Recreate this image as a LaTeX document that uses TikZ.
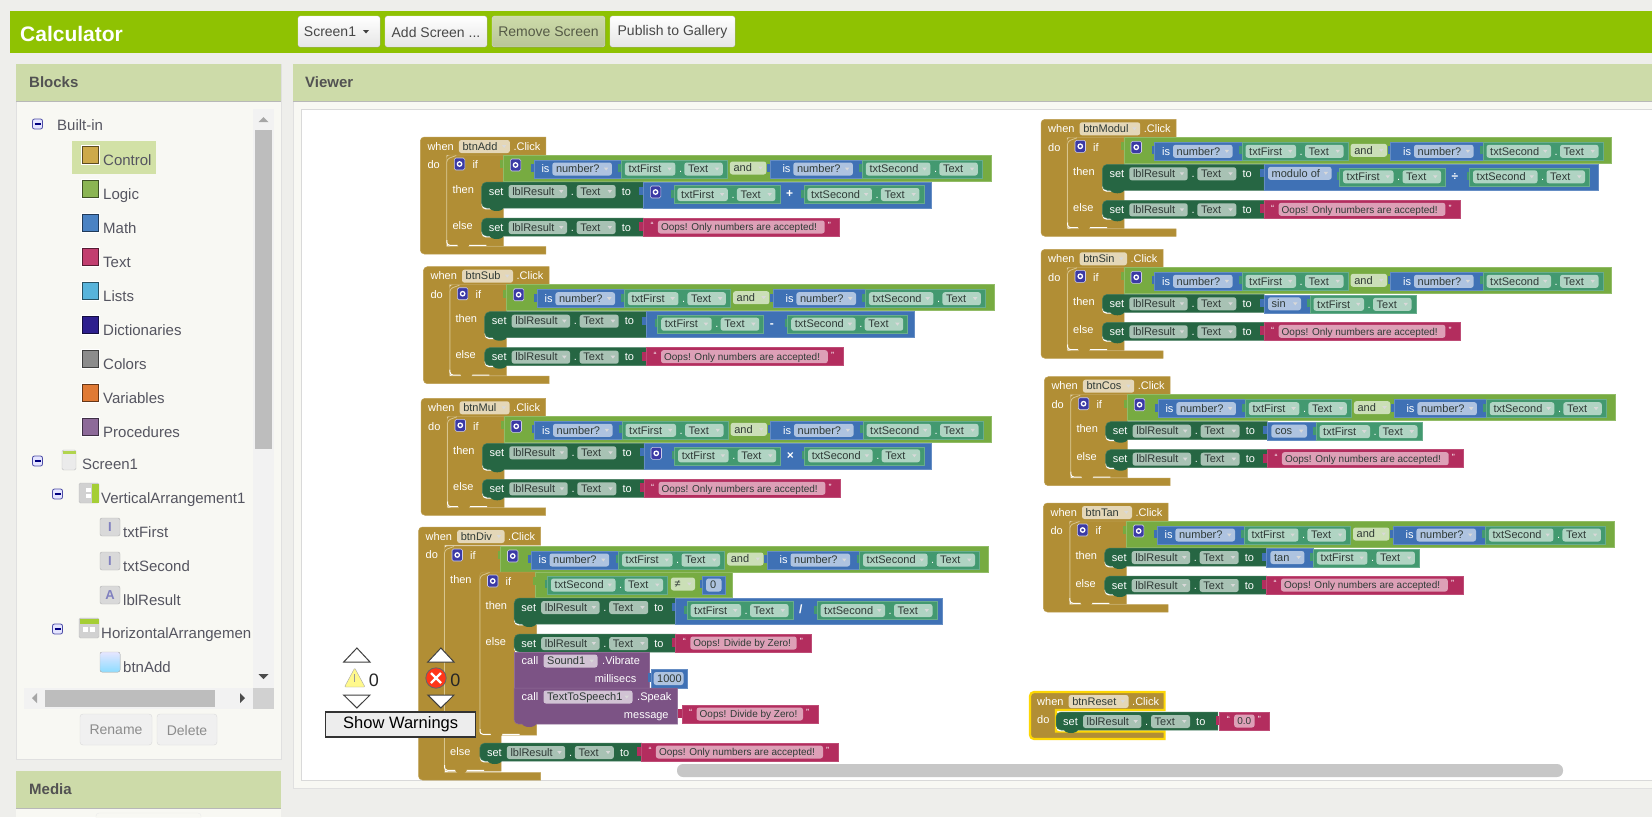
\documentclass[tikz,border=0pt]{standalone}
\usepackage{fontspec}
\setmainfont{Liberation Sans}
\tikzstyle{blockSheet} = [x = 1pt, y = -1pt]
\definecolor{pageColor}{HTML}{EEEEEB}
\definecolor{barGreen}{HTML}{8FC202}
\definecolor{headColor}{HTML}{CDDBA9}
\definecolor{paperColor}{HTML}{F8F8F3}
\definecolor{rowPick}{HTML}{D2E1A6}
\definecolor{controlBrown}{HTML}{B18E35}
\definecolor{controlLine}{HTML}{D8C58E}
\definecolor{logicGreen}{HTML}{77AB41}
\definecolor{mathBlue}{HTML}{3F71B5}
\definecolor{textPink}{HTML}{B32D5E}
\definecolor{setGreen}{HTML}{266643}
\definecolor{propTeal}{HTML}{439970}
\definecolor{callPurple}{HTML}{7C5385}
\definecolor{gearPurple}{HTML}{3B3AA5}
\definecolor{inkColor}{HTML}{2F3A36}
\definecolor{treeInk}{HTML}{555560}
\definecolor{swatchControl}{HTML}{CDA94A}
\definecolor{swatchLogic}{HTML}{8BB553}
\definecolor{swatchMath}{HTML}{4A82C3}
\definecolor{swatchText}{HTML}{C23E6F}
\definecolor{swatchLists}{HTML}{57B4DC}
\definecolor{swatchDict}{HTML}{2D1F8E}
\definecolor{swatchColors}{HTML}{8C8C8C}
\definecolor{swatchVars}{HTML}{E07A35}
\definecolor{swatchProcs}{HTML}{8D6A99}
\tikzstyle{blockText} = [font=\fontsize{11}{13}\selectfont, text=white, anchor=west, inner sep=0, text height=9.5, text depth=2]
\tikzstyle{blockTextRight} = [blockText, anchor=east]
\tikzstyle{fieldText} = [blockText, text=inkColor]
\tikzstyle{stringText} = [fieldText, font=\fontsize{10}{12}\selectfont]
\tikzstyle{quoteText} = [blockText, font=\fontsize{9}{10}\selectfont]
\tikzstyle{treeText} = [font=\fontsize{15}{17}\selectfont, text=treeInk, anchor=west, inner sep=0, text height=13, text depth=3]
\tikzstyle{headText} = [font=\fontsize{15}{17}\bfseries\selectfont, text=black!68, anchor=west, inner sep=0]
\tikzstyle{buttonText} = [font=\fontsize{14}{16}\selectfont, text=black!72, inner sep=0]
\tikzstyle{topButton} = [rounded corners=2.5, draw=black!12, top color=white, bottom color=black!10]
\tikzstyle{controlBody} = [fill=controlBrown, draw=controlBrown!85!white, line width=.5]
\tikzstyle{logicBody} = [fill=logicGreen, draw=logicGreen!80!white, line width=.5]
\tikzstyle{mathBody} = [fill=mathBlue, draw=mathBlue!80!white, line width=.5]
\tikzstyle{pinkBody} = [fill=textPink, draw=textPink!85!white, line width=.5]
\tikzstyle{setBody} = [fill=setGreen, draw=setGreen!85!white, line width=.5]
\tikzstyle{tealBody} = [fill=propTeal, draw=propTeal!80!white, line width=.5]
\tikzstyle{callBody} = [fill=callPurple, draw=callPurple!85!white, line width=.5]
\tikzstyle{brownField} = [fill=controlBrown!35!white]
\tikzstyle{setField} = [fill=setGreen!40!white]
\tikzstyle{tealField} = [fill=propTeal!42!white]
\tikzstyle{blueField} = [fill=mathBlue!42!white]
\tikzstyle{pinkField} = [fill=textPink!45!white]
\tikzstyle{greenField} = [fill=logicGreen!38!white]
\tikzstyle{purpleField} = [fill=callPurple!35!white]
\tikzstyle{gearStyle} = [fill=gearPurple, draw=white!75!gearPurple, rounded corners=1.5, line width=.6]
\tikzstyle{scrollThumb} = [fill=black!26]
\tikzstyle{scrollTrack} = [fill=black!5]
\tikzstyle{spinTip} = [fill=white, draw=black!75, line width=1]
\newcounter{labelNo}
\newcommand{\blockLabel}[3]{\stepcounter{labelNo}\node [#1] (label\arabic{labelNo}) at (#2) {#3};}
\newcommand{\dropField}[5]{
  \fill [#1, rounded corners=2.5] (#2,#4-6.5) rectangle (#3,#4+6.5);
  \blockLabel{fieldText}{#2+3.5,#4}{#5}
  \fill [white!85!black] (#3-8,#4-1.5) -- (#3-3.5,#4-1.5) -- (#3-5.75,#4+1.5) -- cycle;
}
\newcommand{\gearIcon}[2]{
  \filldraw [gearStyle] (#1,#2) rectangle +(10.5,12);
  \draw [white, line width=1.3] (#1+5.25,#2+6) circle (2.2);
}
\newcommand{\clickBlock}[4]{
  \filldraw [controlBody, #4] (#1+74.6,0) -- (#1+74.6,18) -- (26,18) -- (26,#2-7.5) -- (#1+74.6,#2-7.5) -- (#1+74.6,#2) [rounded corners=4] -- (0,#2) -- (0,0) [sharp corners] -- cycle;
  \blockLabel{blockText}{7,9.5}{when}
  \dropField{brownField}{38.6}{38.6+#1}{9.5}{#3}
  \blockLabel{blockText}{42+#1,9.5}{.Click}
  \blockLabel{blockText}{7,28}{do}
}
\newcommand{\ifBlock}[5]{
  \begin{scope}[shift={(#1,#2)}]
    \filldraw [controlBody] (57,0) [rounded corners=4] -- (0,0) -- (0,#3) [sharp corners] -- (57,#3) -- cycle;
    \draw [controlLine, line width=.8, rounded corners=3] (.5,#3-6) -- (.5,4) -- (10,.5);
    \draw [white, line width=1, rounded corners=3] (.5,#3-6) -- (.5,#3-.7) -- (40,#3-.7);
    \fill [controlBrown] (17,#3-1) ellipse (6 and 3.5);
    \gearIcon{8}{3}
    \blockLabel{blockText}{26,10}{if}
    \blockLabel{blockText}{6,#4}{then}
    \blockLabel{blockText}{6,#5}{else}
  \end{scope}
}
\newcommand{\propBlock}[4]{
  \begin{scope}[shift={(#1,#2)}]
    \fill [propTeal] (-3,4) rectangle (0,12);
    \filldraw [tealBody] (0,0) rectangle (#4+55.5,18);
    \dropField{tealField}{3.5}{3.5+#4}{9}{#3}
    \blockLabel{blockText}{#4+7,9}{.}
    \dropField{tealField}{#4+12.5}{#4+51}{9}{Text}
  \end{scope}
}
\newcommand{\isBlock}[3]{
  \begin{scope}[shift={(#1,#2)}]
    \fill [mathBlue] (-3,4) rectangle (0,12);
    \filldraw [mathBody] (0,0) rectangle (#3,18);
    \blockLabel{blockText}{#3-80,9}{is}
    \dropField{blueField}{#3-69}{#3-9.4}{9}{number?}
  \end{scope}
}
\newcommand{\numberCheck}[2]{
  \begin{scope}[shift={(#1,#2)}]
    \fill [logicGreen] (-3,5) rectangle (0,13);
    \filldraw [logicBody] (0,0) rectangle (487.6,26);
    \gearIcon{7}{4}
    \isBlock{30.6}{5}{87.4}
    \propBlock{118}{5}{txtFirst}{50.5}
    \dropField{greenField}{226.6}{263}{13}{and}
    \isBlock{266.7}{5}{92.3}
    \propBlock{359}{5}{txtSecond}{64.5}
  \end{scope}
}
\newcommand{\setRow}[3]{
  \begin{scope}[shift={(#1,#2)}]
    \fill [white, rounded corners=4] (0,#3-8) -- (0,#3+1.3) -- (24,#3+1.3) -- (24,#3-8) -- cycle;
    \filldraw [setBody] (161.8,0) [rounded corners=5] -- (0,0) -- (0,#3) [sharp corners] -- (161.8,#3) -- cycle;
    \fill [setGreen] (15,#3-.5) ellipse (7 and 3.5);
    \blockLabel{blockText}{7,9.5}{set}
    \dropField{setField}{27}{85.4}{9.5}{lblResult}
    \blockLabel{blockText}{89,9.5}{.}
    \dropField{setField}{95}{134}{9.5}{Text}
    \blockLabel{blockText}{140,9.5}{to}
  \end{scope}
}
\newcommand{\stringBlock}[4]{
  \begin{scope}[shift={(#1,#2)}]
    \fill [textPink] (-4,4) rectangle (0,13);
    \filldraw [pinkBody] (0,0) rectangle (#3,18);
    \blockLabel{quoteText}{7,7}{“}
    \fill [pinkField, rounded corners=2.5] (14.6,2.5) rectangle (#3-15,15.5);
    \blockLabel{stringText}{17.5,9}{#4}
    \blockLabel{quoteText}{#3-12,7}{”}
  \end{scope}
}
\newcommand{\arithBlock}[5]{
  \begin{scope}[shift={(#1,#2)}]
    \fill [mathBlue] (-4,5) rectangle (0,13);
    \filldraw [mathBody] (0,0) rectangle (#3,26);
    \propBlock{#4}{3.5}{txtFirst}{50.5}
    \blockLabel{blockText, font=\fontsize{12}{13}\bfseries\selectfont}{#4+112,12}{#5}
    \propBlock{#4+130}{3.5}{txtSecond}{64.5}
  \end{scope}
}
\newcommand{\trigRow}[4]{
  \begin{scope}[shift={(#1,#2)}]
    \fill [mathBlue] (-4,4) rectangle (0,12);
    \filldraw [mathBody] (0,0) rectangle (#3,18.5);
    \dropField{blueField}{4}{#3-9}{9}{#4}
    \propBlock{#3}{0.5}{txtFirst}{50.5}
  \end{scope}
}
\newcommand{\guardBlock}[3]{
  \clickBlock{#1}{#3+91}{#2}{}
  \ifBlock{26}{18}{#3+65}{34.5}{#3+44.5}
  \numberCheck{83}{18}
  \setRow{61.3}{45}{#3}
  \setRow{61.3}{#3+55}{18}
  \stringBlock{223}{#3+55}{196.4}{Oops! Only numbers are accepted!}
}
\newcommand{\paletteRow}[3]{
  \filldraw [draw=white, line width=1, fill=#3!45!black] (81,#1-9.5) rectangle (99,#1+9.5);
  \fill [#3] (82.5,#1-8) rectangle (97.5,#1+8);
  \blockLabel{treeText}{103,#1+5}{#2}
}
\newcommand{\minusIcon}[2]{
  \filldraw [fill=blue!10!white, draw=blue!50!black!70!white, rounded corners=2, line width=.8] (#1-5,#2-5) rectangle (#1+5,#2+5);
  \draw [blue!50!black, line width=1.2] (#1-3,#2) -- (#1+3,#2);
}
\newcommand{\boxIcon}[4]{
  \filldraw [fill=black!15, draw=black!30, rounded corners=2] (#1,#2) rectangle +(20,18);
  \blockLabel{treeText, font=\fontsize{13}{15}\bfseries\selectfont, text=blue!50!black!50!white, anchor=center, text height=9, text depth=0}{#1+10,#2+9}{#3}
  \blockLabel{treeText}{#1+23,#2+14}{#4}
}
\begin{document}
\begin{tikzpicture}[blockSheet]
  \useasboundingbox (0,0) rectangle (1652,817);
  \fill [pageColor] (0,0) rectangle (1652,817);
  % top bar
  \fill [barGreen] (10,11) rectangle (1652,53);
  \blockLabel{headText, font=\fontsize{21}{23}\bfseries\selectfont, text=white}{20,33.5}{Calculator}
  \filldraw [topButton] (298,16) rectangle (380,47);
  \filldraw [topButton] (385,16) rectangle (487,47);
  \filldraw [topButton, top color=headColor, bottom color=headColor!90!black] (492,16) rectangle (605,47);
  \filldraw [topButton] (610,16) rectangle (735,47);
  \blockLabel{buttonText}{330,32}{Screen1}
  \fill [black!75] (363,30) -- (369,30) -- (366,33.5) -- cycle;
  \blockLabel{buttonText}{436,32}{Add Screen ...}
  \blockLabel{buttonText, text=black!45!headColor!75!black}{548.5,32}{Remove Screen}
  \blockLabel{buttonText}{672.5,32}{Publish to Gallery}
  % panels
  \filldraw [fill=paperColor, draw=black!12] (16,64) rectangle (281,759);
  \fill [headColor] (16,64) rectangle (281,101);
  \draw [black!28] (16,101) -- (281,101);
  \blockLabel{headText}{29,82.5}{Blocks}
  \fill [paperColor] (16,771) rectangle (281,817);
  \fill [headColor] (16,771) rectangle (281,808);
  \draw [black!28] (16,808) -- (281,808);
  \blockLabel{headText}{29,789.5}{Media}
  \filldraw [fill=paperColor, draw=black!8] (96,817.5) [rounded corners=3] -- (96,813) -- (201,813) -- (201,817.5);
  \filldraw [fill=paperColor, draw=black!12] (293,64) rectangle (1653,788);
  \fill [headColor] (293,64) rectangle (1652,101);
  \draw [black!28] (293,101) -- (1652,101);
  \blockLabel{headText}{305,82.5}{Viewer}
  \filldraw [fill=white, draw=black!15] (301,109) rectangle (1653,780);
  % tree
  \fill [rowPick] (72,141) rectangle (156,174);
  \minusIcon{37.5}{124}
  \blockLabel{treeText}{57,125}{Built-in}
  \paletteRow{155}{Control}{swatchControl}
  \paletteRow{189}{Logic}{swatchLogic}
  \paletteRow{223}{Math}{swatchMath}
  \paletteRow{257}{Text}{swatchText}
  \paletteRow{291}{Lists}{swatchLists}
  \paletteRow{325}{Dictionaries}{swatchDict}
  \paletteRow{359}{Colors}{swatchColors}
  \paletteRow{393}{Variables}{swatchVars}
  \paletteRow{427}{Procedures}{swatchProcs}
  \minusIcon{37.5}{461}
  \filldraw [fill=black!8, draw=black!25, rounded corners=1.5] (62,450) rectangle (76,470);
  \fill [barGreen!70!white] (62.5,450.5) rectangle (75.5,454);
  \blockLabel{treeText}{82,464.5}{Screen1}
  \minusIcon{57.5}{494}
  \filldraw [fill=black!18, draw=black!25, rounded corners=1.5] (79,483) rectangle (99,503);
  \fill [barGreen!80!white] (92,483.5) rectangle (98.5,502.5);
  \fill [white] (86,488) rectangle (91,492);
  \fill [white] (86,494) rectangle (91,498);
  \blockLabel{treeText}{101,498}{VerticalArrangement1}
  \boxIcon{100}{518}{I}{txtFirst}
  \boxIcon{100}{552}{I}{txtSecond}
  \boxIcon{100}{586}{A}{lblResult}
  \minusIcon{57.5}{629}
  \filldraw [fill=black!18, draw=black!25, rounded corners=1.5] (79,618) rectangle (99,638);
  \fill [barGreen!80!white] (79.5,618.5) rectangle (98.5,624);
  \fill [white] (83,627) rectangle (88,632);
  \fill [white] (90,627) rectangle (95,632);
  \blockLabel{treeText}{101,633}{HorizontalArrangemen}
  \filldraw [draw=black!25, top color=blue!10!white, bottom color=blue!30!cyan!45!white, rounded corners=2] (100,652) rectangle (120,672);
  \blockLabel{treeText}{123,667}{btnAdd}
  % tree scroll bars
  \fill [scrollTrack] (253,109) rectangle (274,688);
  \fill [scrollThumb] (255,130) rectangle (272,449);
  \fill [black!35] (258.5,122) -- (268.5,122) -- (263.5,117) -- cycle;
  \fill [black!70] (258.5,674) -- (268.5,674) -- (263.5,679) -- cycle;
  \fill [scrollTrack] (24,688) rectangle (274,709);
  \fill [black!18] (253,688) rectangle (274,709);
  \fill [scrollThumb] (45,690) rectangle (215,707);
  \fill [black!35] (37,693) -- (37,703) -- (32,698) -- cycle;
  \fill [black!70] (240,693) -- (240,703) -- (245,698) -- cycle;
  \filldraw [fill=black!6, draw=black!14, rounded corners=3] (80,714) rectangle (152,745);
  \filldraw [fill=black!6, draw=black!14, rounded corners=3] (157,714) rectangle (217,745);
  \blockLabel{buttonText, text=black!45}{116,730}{Rename}
  \blockLabel{buttonText, text=black!45}{187,730}{Delete}
  % canvas scroll bar
  \fill [black!22, rounded corners=6] (677,764) rectangle (1563,777);
  % left column
  \begin{scope}[shift={(420.3,137)}]
    \guardBlock{51}{btnAdd}{26}
    \arithBlock{223}{45}{287.6}{30.6}{+}
    \gearIcon{230}{49}
  \end{scope}
  \begin{scope}[shift={(423.4,266.7)}]
    \guardBlock{51}{btnSub}{26}
    \arithBlock{223}{45}{268}{11.3}{-}
  \end{scope}
  \begin{scope}[shift={(421,398.3)}]
    \guardBlock{50}{btnMul}{26}
    \arithBlock{223}{45}{287.6}{30.6}{×}
    \gearIcon{230}{49}
  \end{scope}
  \begin{scope}[shift={(418.5,527)}]
    \clickBlock{47.5}{253}{btnDiv}{}
    \ifBlock{25.5}{19}{225}{34}{206}
    \numberCheck{82}{19}
    \ifBlock{61}{45}{163}{34}{70}
    \filldraw [logicBody] (117,45) rectangle (314,70);
    \fill [logicGreen] (114,50) rectangle (117,58);
    \propBlock{129}{49}{txtSecond}{64.5}
    \dropField{greenField}{252.4}{276.5}{57}{≠}
    \fill [mathBlue] (281,53) rectangle (284,61);
    \filldraw [mathBody] (284,49) rectangle (306.5,67);
    \fill [blueField, rounded corners=2.5] (287.6,51.5) rectangle (303,64.5);
    \blockLabel{fieldText}{291.5,58}{0}
    \setRow{95.7}{71}{26}
    \arithBlock{257.2}{71}{266.3}{11.3}{/}
    \setRow{95.7}{107}{18}
    \stringBlock{257.2}{107}{136}{Oops! Divide by Zero!}
    \filldraw [callBody] (95.7,125) rectangle (230.5,161);
    \blockLabel{blockText}{103,134}{call}
    \dropField{purpleField}{125}{179}{134}{Sound1}
    \blockLabel{blockText}{183.5,134}{.Vibrate}
    \blockLabel{blockTextRight}{218,152}{millisecs}
    \fill [mathBlue] (229,146) rectangle (232.5,155);
    \filldraw [mathBody] (232.5,142) rectangle (269,161);
    \fill [blueField, rounded corners=2.5] (235.2,145) rectangle (265,158);
    \blockLabel{fieldText}{238.5,151.5}{1000}
    \filldraw [callBody] (95.7,161) -- (259.2,161) -- (259.2,197) [rounded corners=4] -- (95.7,197) [sharp corners] -- cycle;
    \fill [callPurple] (110.7,196.5) ellipse (7 and 3.5);
    \blockLabel{blockText}{103,170}{call}
    \dropField{purpleField}{125}{214}{170}{TextToSpeech1}
    \blockLabel{blockText}{218.5,170}{.Speak}
    \blockLabel{blockTextRight}{250.3,188}{message}
    \stringBlock{263.5}{178}{136}{Oops! Divide by Zero!}
    \setRow{61.3}{216}{18}
    \stringBlock{222.8}{216}{196.7}{Oops! Only numbers are accepted!}
  \end{scope}
  % right column
  \begin{scope}[shift={(1041,119.3)}]
    \guardBlock{60.6}{btnModul}{26}
    \arithBlock{223}{45}{334.6}{75.5}{÷}
    \dropField{blueField}{227}{290.6}{54}{modulo of}
  \end{scope}
  \begin{scope}[shift={(1041,249.3)}]
    \guardBlock{47.4}{btnSin}{18}
    \trigRow{223}{45.5}{46}{sin}
  \end{scope}
  \begin{scope}[shift={(1044.3,376.7)}]
    \guardBlock{51.3}{btnCos}{18}
    \trigRow{223}{45.5}{48.7}{cos}
  \end{scope}
  \begin{scope}[shift={(1043.4,503)}]
    \guardBlock{50}{btnTan}{18}
    \trigRow{223}{45.5}{47}{tan}
  \end{scope}
  \begin{scope}[shift={(1030,692)}]
    \clickBlock{60}{47}{btnReset}{draw=yellow!75!orange, line width=2.2}
    \setRow{26}{20}{18}
    \stringBlock{189.6}{20}{50}{0.0}
  \end{scope}
  % warning counters
  \filldraw [spinTip] (343.7,662) -- (370,662) -- (356.9,648) -- cycle;
  \filldraw [spinTip] (343.7,695) -- (370,695) -- (356.9,708) -- cycle;
  \filldraw [fill=yellow!45!white, draw=black!35, rounded corners=1] (344.5,687) -- (365,687) -- (354.7,668) -- cycle;
  \draw [black!40, line width=1.2] (354.7,674) -- (354.7,682);
  \blockLabel{buttonText, font=\fontsize{18}{20}\selectfont, text=black!85}{374,680}{0}
  \filldraw [spinTip] (427.8,662) -- (454,662) -- (440.9,648) -- cycle;
  \filldraw [spinTip] (427.8,695) -- (454,695) -- (440.9,708) -- cycle;
  \filldraw [fill=red!75!orange!90!white, draw=black!60, line width=.8] (436,678) circle (10.2);
  \draw [white, line width=2.4] (431,673) -- (441,683) (441,673) -- (431,683);
  \blockLabel{buttonText, font=\fontsize{18}{20}\selectfont, text=black!85}{455.5,680}{0}
  \node [draw=black!80, line width=1.4, fill=black!7, minimum width=150, minimum height=25, inner sep=0, font=\fontsize{16.5}{18}\selectfont] (warningButton) at (400.7,724.5) {Show Warnings};
\end{tikzpicture}
\end{document}
